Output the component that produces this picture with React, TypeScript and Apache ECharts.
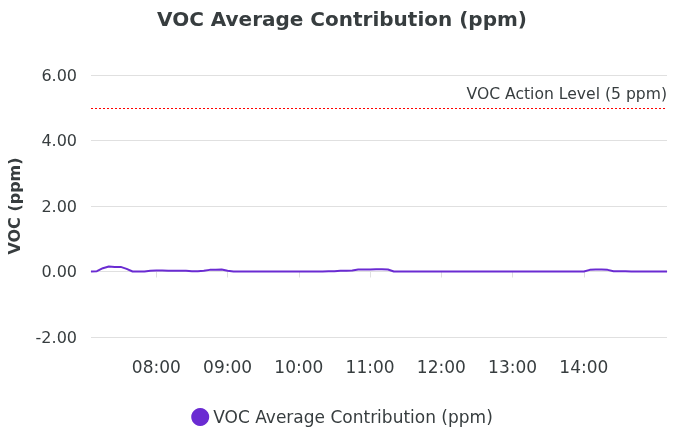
import React, { useEffect, useRef } from "react";
import * as echarts from "echarts";

const startMinute = 7 * 60 + 5; // 07:05
const stepMinutes = 5;
const vocValues = [
  0, 0.01, 0.1, 0.15, 0.14, 0.14, 0.08, 0, 0, 0,
  0.02, 0.03, 0.03, 0.02, 0.02, 0.02, 0.02, 0.01, 0.01, 0.02,
  0.05, 0.05, 0.06, 0.02, 0, 0, 0, 0, 0, 0,
  0, 0, 0, 0, 0, 0, 0, 0, 0, 0,
  0.01, 0.01, 0.02, 0.02, 0.03, 0.06, 0.06, 0.06, 0.07, 0.07,
  0.06, 0, 0, 0, 0, 0, 0, 0, 0, 0,
  0, 0, 0, 0, 0, 0, 0, 0, 0, 0,
  0, 0, 0, 0, 0, 0, 0, 0, 0, 0,
  0, 0, 0, 0, 0.05, 0.06, 0.06, 0.05, 0.01, 0.01,
  0.01, 0, 0, 0, 0, 0, 0, 0,
];
const hourTicks = ["08:00", "09:00", "10:00", "11:00", "12:00", "13:00", "14:00"];
const actionLevel = 5;
const yTicks = [-2, 0, 2, 4, 6];

const FONT = "DejaVu Sans";
const TEXT = "#373d3f";
const PURPLE = "#6a2bd2";

export default function App() {
  const ref = useRef<HTMLDivElement>(null);
  useEffect(() => {
    if (!ref.current) return;
    const chart = echarts.init(ref.current, null, { renderer: "svg" });
    const data = vocValues.map((v, i) => [startMinute + i * stepMinutes, v]);
    const tickValues = hourTicks.map((h) => {
      const [hh, mm] = h.split(":").map(Number);
      return hh * 60 + mm;
    });
    const pad = (n: number) => String(n).padStart(2, "0");
    chart.setOption({
      animation: false,
      textStyle: { fontFamily: FONT },
      title: {
        text: "VOC Average Contribution (ppm)",
        left: "center",
        top: 4,
        textStyle: { fontFamily: FONT, fontSize: 20, fontWeight: "bold", color: TEXT },
      },
      grid: { left: 91, right: 17, top: 75, bottom: 95, outerBoundsMode: "none", containLabel: false },
      legend: {
        bottom: 1,
        left: "center",
        icon: "circle",
        itemWidth: 18,
        itemHeight: 18,
        itemGap: 4,
        textStyle: { fontFamily: FONT, fontSize: 17, color: TEXT, padding: [0, 0, 0, -1] },
        data: ["VOC Average Contribution (ppm)"],
      },
      xAxis: {
        type: "value",
        min: data[0][0],
        max: data[data.length - 1][0],
        axisLine: { show: true, lineStyle: { color: "#e0e0e0" } },
        axisTick: { show: true, length: 6, lineStyle: { color: "#e0e0e0" }, customValues: tickValues },
        splitLine: { show: false },
        axisLabel: {
          customValues: tickValues,
          fontFamily: FONT,
          fontSize: 17,
          color: TEXT,
          margin: 21,
          formatter: (v: number) => `${pad(Math.floor(v / 60))}:${pad(v % 60)}`,
        },
      },
      yAxis: {
        type: "value",
        min: yTicks[0],
        max: yTicks[yTicks.length - 1],
        interval: 2,
        name: "VOC (ppm)",
        nameLocation: "middle",
        nameGap: 69,
        nameTextStyle: { fontFamily: FONT, fontSize: 16, fontWeight: "bold", color: TEXT },
        axisLine: { show: false },
        axisTick: { show: false },
        splitLine: { lineStyle: { color: "#e0e0e0" } },
        axisLabel: {
          fontFamily: FONT,
          fontSize: 16,
          color: TEXT,
          margin: 14,
          formatter: (v: number) => v.toFixed(2),
        },
      },
      series: [
        {
          name: "VOC Average Contribution (ppm)",
          type: "line",
          data,
          showSymbol: false,
          symbol: "circle",
          itemStyle: { color: PURPLE },
          lineStyle: { color: PURPLE, width: 2 },
          markLine: {
            silent: true,
            symbol: "none",
            lineStyle: { color: "#ff0000", type: [2, 2], width: 1, opacity: 1 },
            label: {
              show: true,
              position: "insideEndTop",
              formatter: "VOC Action Level (5 ppm)",
              fontFamily: FONT,
              fontSize: 15.6,
              color: TEXT,
              distance: [0, 6],
            },
            data: [{ yAxis: actionLevel, lineStyle: { color: "#ff0000" } }],
          },
        },
      ],
    });
    return () => chart.dispose();
  }, []);
  return (
    <div
      ref={ref}
      style={{ position: "fixed", left: 0, top: 0, width: 684, height: 432 }}
    />
  );
}
